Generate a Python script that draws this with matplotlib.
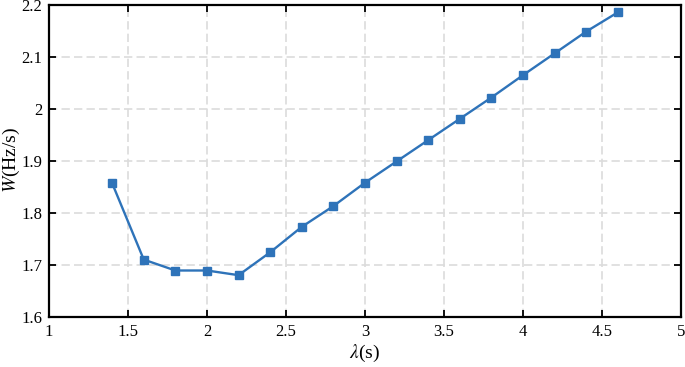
import matplotlib
matplotlib.use("Agg")
import matplotlib.pyplot as plt

# lambda (s) vs W (Hz/s)
lam = [1.4, 1.6, 1.8, 2.0, 2.2, 2.4, 2.6, 2.8, 3.0, 3.2, 3.4, 3.6, 3.8, 4.0, 4.2, 4.4, 4.6]
W = [1.857, 1.710, 1.689, 1.689, 1.680, 1.724, 1.773, 1.813, 1.858, 1.899,
     1.940, 1.981, 2.022, 2.065, 2.107, 2.149, 2.186]

x_ticks = [1, 1.5, 2, 2.5, 3, 3.5, 4, 4.5, 5]
x_labels = ["1", "1.5", "2", "2.5", "3", "3.5", "4", "4.5", "5"]
y_ticks = [1.6, 1.7, 1.8, 1.9, 2.0, 2.1, 2.2]
y_labels = ["1.6", "1.7", "1.8", "1.9", "2", "2.1", "2.2"]

plt.rcParams['font.family'] = ['Liberation Serif', 'DejaVu Serif']
plt.rcParams['mathtext.fontset'] = 'stix'

fig = plt.figure(figsize=(6.85, 3.67), dpi=100)
ax = fig.add_axes([0.0715, 0.137, 0.9225, 0.849])

ax.plot(lam, W, color='#2e73b9', linewidth=1.7, marker='s', markersize=6,
        markerfacecolor='#2e73b9', markeredgecolor='#2e73b9', zorder=3)

ax.set_xlim(1, 5)
ax.set_ylim(1.6, 2.2)
ax.set_xticks(x_ticks)
ax.set_xticklabels(x_labels)
ax.set_yticks(y_ticks)
ax.set_yticklabels(y_labels)

ax.grid(True, color='#dcdcdc', linestyle=(0, (5, 2.5)), linewidth=1.2, zorder=0)
ax.set_axisbelow(True)

ax.tick_params(axis='both', direction='in', length=5, width=1.3,
               top=True, right=True, labelsize=12, pad=5)
for s in ax.spines.values():
    s.set_linewidth(1.6)

ax.set_xlabel(r'$\lambda$(s)', fontsize=14, labelpad=2)
fig.text(11 / 685, 0.563, r'$W$(Hz/s)', fontsize=14, rotation=90,
         ha='center', va='center')

fig.savefig('out.png', dpi=100)
